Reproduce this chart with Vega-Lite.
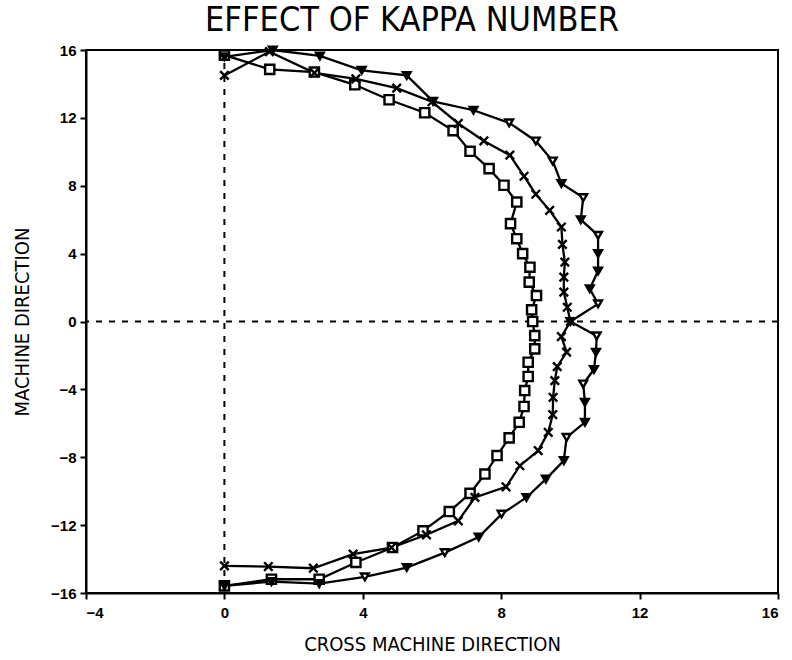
{
  "$schema": "https://vega.github.io/schema/vega-lite/v6.json",
  "width": 692,
  "height": 543,
  "autosize": "none",
  "padding": {"left": 86, "top": 50, "right": 14, "bottom": 67},
  "background": "white",
  "title": {
    "text": "EFFECT OF KAPPA NUMBER",
    "font": "DejaVu Sans Condensed",
    "fontSize": 34,
    "fontWeight": "normal",
    "color": "black",
    "anchor": "middle",
    "offset": 4,
    "dx": -20
  },
  "config": {
    "view": {"stroke": "black", "strokeWidth": 2},
    "axis": {
      "domainColor": "black",
      "domainWidth": 2,
      "tickColor": "black",
      "tickWidth": 2,
      "tickSize": 6,
      "grid": false,
      "labelFont": "Liberation Sans",
      "labelFontWeight": "bold",
      "labelFontSize": 15,
      "labelColor": "black",
      "titleFont": "DejaVu Sans Condensed",
      "titleFontWeight": "normal",
      "titleFontSize": 20,
      "titleColor": "black"
    }
  },
  "datasets": {
    "pts": [
      {"series": "sq", "i": 0, "x": 0, "y": 15.7, "tone": "open"},
      {"series": "sq", "i": 1, "x": 1.31, "y": 14.86, "tone": "open"},
      {"series": "sq", "i": 2, "x": 2.6, "y": 14.7, "tone": "open"},
      {"series": "sq", "i": 3, "x": 3.77, "y": 13.95, "tone": "open"},
      {"series": "sq", "i": 4, "x": 4.76, "y": 13.07, "tone": "open"},
      {"series": "sq", "i": 5, "x": 5.79, "y": 12.3, "tone": "open"},
      {"series": "sq", "i": 6, "x": 6.61, "y": 11.25, "tone": "open"},
      {"series": "sq", "i": 7, "x": 7.1, "y": 10.03, "tone": "open"},
      {"series": "sq", "i": 8, "x": 7.65, "y": 9.01, "tone": "open"},
      {"series": "sq", "i": 9, "x": 8.08, "y": 8.03, "tone": "open"},
      {"series": "sq", "i": 10, "x": 8.45, "y": 7.04, "tone": "open"},
      {"series": "sq", "i": 11, "x": 8.27, "y": 5.77, "tone": "open"},
      {"series": "sq", "i": 12, "x": 8.45, "y": 4.88, "tone": "open"},
      {"series": "sq", "i": 13, "x": 8.62, "y": 4.0, "tone": "open"},
      {"series": "sq", "i": 14, "x": 8.83, "y": 3.2, "tone": "open"},
      {"series": "sq", "i": 15, "x": 8.81, "y": 2.32, "tone": "open"},
      {"series": "sq", "i": 16, "x": 9.02, "y": 1.53, "tone": "open"},
      {"series": "sq", "i": 17, "x": 8.88, "y": 0.69, "tone": "open"},
      {"series": "sq", "i": 18, "x": 8.91, "y": 0.0, "tone": "open"},
      {"series": "sq", "i": 19, "x": 8.97, "y": -0.83, "tone": "open"},
      {"series": "sq", "i": 20, "x": 8.97, "y": -1.61, "tone": "open"},
      {"series": "sq", "i": 21, "x": 8.78, "y": -2.4, "tone": "open"},
      {"series": "sq", "i": 22, "x": 8.78, "y": -3.24, "tone": "open"},
      {"series": "sq", "i": 23, "x": 8.68, "y": -4.07, "tone": "open"},
      {"series": "sq", "i": 24, "x": 8.66, "y": -5.01, "tone": "open"},
      {"series": "sq", "i": 25, "x": 8.52, "y": -5.94, "tone": "open"},
      {"series": "sq", "i": 26, "x": 8.23, "y": -6.86, "tone": "open"},
      {"series": "sq", "i": 27, "x": 7.88, "y": -7.9, "tone": "open"},
      {"series": "sq", "i": 28, "x": 7.53, "y": -8.99, "tone": "open"},
      {"series": "sq", "i": 29, "x": 7.1, "y": -10.13, "tone": "open"},
      {"series": "sq", "i": 30, "x": 6.5, "y": -11.2, "tone": "open"},
      {"series": "sq", "i": 31, "x": 5.74, "y": -12.34, "tone": "open"},
      {"series": "sq", "i": 32, "x": 4.86, "y": -13.32, "tone": "open"},
      {"series": "sq", "i": 33, "x": 3.8, "y": -14.2, "tone": "open"},
      {"series": "sq", "i": 34, "x": 2.74, "y": -15.19, "tone": "open"},
      {"series": "sq", "i": 35, "x": 1.36, "y": -15.19, "tone": "open"},
      {"series": "sq", "i": 36, "x": 0, "y": -15.58, "tone": "open"},

      {"series": "x", "i": 0, "x": 0, "y": 14.5, "tone": "open"},
      {"series": "x", "i": 1, "x": 1.3, "y": 15.9, "tone": "open"},
      {"series": "x", "i": 2, "x": 2.6, "y": 14.65, "tone": "open"},
      {"series": "x", "i": 3, "x": 3.8, "y": 14.3, "tone": "open"},
      {"series": "x", "i": 4, "x": 4.98, "y": 13.75, "tone": "open"},
      {"series": "x", "i": 5, "x": 6.0, "y": 12.95, "tone": "open"},
      {"series": "x", "i": 6, "x": 6.76, "y": 11.67, "tone": "open"},
      {"series": "x", "i": 7, "x": 7.5, "y": 10.64, "tone": "open"},
      {"series": "x", "i": 8, "x": 8.25, "y": 9.8, "tone": "open"},
      {"series": "x", "i": 9, "x": 8.66, "y": 8.56, "tone": "open"},
      {"series": "x", "i": 10, "x": 9.0, "y": 7.5, "tone": "open"},
      {"series": "x", "i": 11, "x": 9.4, "y": 6.55, "tone": "open"},
      {"series": "x", "i": 12, "x": 9.74, "y": 5.57, "tone": "open"},
      {"series": "x", "i": 13, "x": 9.77, "y": 4.55, "tone": "open"},
      {"series": "x", "i": 14, "x": 9.84, "y": 3.5, "tone": "open"},
      {"series": "x", "i": 15, "x": 9.81, "y": 2.62, "tone": "open"},
      {"series": "x", "i": 16, "x": 9.81, "y": 1.73, "tone": "open"},
      {"series": "x", "i": 17, "x": 9.91, "y": 0.84, "tone": "open"},
      {"series": "x", "i": 18, "x": 10.0, "y": 0.0, "tone": "open"},
      {"series": "x", "i": 19, "x": 9.74, "y": -0.89, "tone": "open"},
      {"series": "x", "i": 20, "x": 9.89, "y": -1.81, "tone": "open"},
      {"series": "x", "i": 21, "x": 9.62, "y": -2.66, "tone": "open"},
      {"series": "x", "i": 22, "x": 9.55, "y": -3.48, "tone": "open"},
      {"series": "x", "i": 23, "x": 9.5, "y": -4.47, "tone": "open"},
      {"series": "x", "i": 24, "x": 9.49, "y": -5.49, "tone": "open"},
      {"series": "x", "i": 25, "x": 9.36, "y": -6.53, "tone": "open"},
      {"series": "x", "i": 26, "x": 9.07, "y": -7.61, "tone": "open"},
      {"series": "x", "i": 27, "x": 8.54, "y": -8.5, "tone": "open"},
      {"series": "x", "i": 28, "x": 8.14, "y": -9.74, "tone": "open"},
      {"series": "x", "i": 29, "x": 7.24, "y": -10.37, "tone": "open"},
      {"series": "x", "i": 30, "x": 6.76, "y": -11.75, "tone": "open"},
      {"series": "x", "i": 31, "x": 5.84, "y": -12.57, "tone": "open"},
      {"series": "x", "i": 32, "x": 4.83, "y": -13.32, "tone": "open"},
      {"series": "x", "i": 33, "x": 3.72, "y": -13.71, "tone": "open"},
      {"series": "x", "i": 34, "x": 2.57, "y": -14.54, "tone": "open"},
      {"series": "x", "i": 35, "x": 1.27, "y": -14.44, "tone": "open"},
      {"series": "x", "i": 36, "x": 0, "y": -14.4, "tone": "open"},

      {"series": "tri", "i": 0, "x": 0, "y": 15.6, "tone": "solid"},
      {"series": "tri", "i": 1, "x": 1.4, "y": 16.0, "tone": "solid"},
      {"series": "tri", "i": 2, "x": 2.76, "y": 15.65, "tone": "solid"},
      {"series": "tri", "i": 3, "x": 3.97, "y": 14.8, "tone": "solid"},
      {"series": "tri", "i": 4, "x": 5.27, "y": 14.5, "tone": "solid"},
      {"series": "tri", "i": 5, "x": 6.03, "y": 12.97, "tone": "solid"},
      {"series": "tri", "i": 6, "x": 7.2, "y": 12.45, "tone": "solid"},
      {"series": "tri", "i": 7, "x": 8.23, "y": 11.71, "tone": "open"},
      {"series": "tri", "i": 8, "x": 9.0, "y": 10.64, "tone": "open"},
      {"series": "tri", "i": 9, "x": 9.49, "y": 9.46, "tone": "open"},
      {"series": "tri", "i": 10, "x": 9.74, "y": 8.13, "tone": "solid"},
      {"series": "tri", "i": 11, "x": 10.37, "y": 7.3, "tone": "open"},
      {"series": "tri", "i": 12, "x": 10.3, "y": 6.0, "tone": "solid"},
      {"series": "tri", "i": 13, "x": 10.8, "y": 5.08, "tone": "open"},
      {"series": "tri", "i": 14, "x": 10.8, "y": 4.0, "tone": "solid"},
      {"series": "tri", "i": 15, "x": 10.8, "y": 2.97, "tone": "solid"},
      {"series": "tri", "i": 16, "x": 10.56, "y": 1.93, "tone": "solid"},
      {"series": "tri", "i": 17, "x": 10.8, "y": 1.04, "tone": "open"},
      {"series": "tri", "i": 18, "x": 10.0, "y": 0.0, "tone": "solid"},
      {"series": "tri", "i": 19, "x": 10.76, "y": -0.85, "tone": "open"},
      {"series": "tri", "i": 20, "x": 10.74, "y": -1.81, "tone": "solid"},
      {"series": "tri", "i": 21, "x": 10.68, "y": -2.83, "tone": "solid"},
      {"series": "tri", "i": 22, "x": 10.37, "y": -3.68, "tone": "open"},
      {"series": "tri", "i": 23, "x": 10.42, "y": -4.76, "tone": "solid"},
      {"series": "tri", "i": 24, "x": 10.42, "y": -5.94, "tone": "solid"},
      {"series": "tri", "i": 25, "x": 9.89, "y": -6.83, "tone": "open"},
      {"series": "tri", "i": 26, "x": 9.81, "y": -8.2, "tone": "solid"},
      {"series": "tri", "i": 27, "x": 9.29, "y": -9.29, "tone": "solid"},
      {"series": "tri", "i": 28, "x": 8.73, "y": -10.37, "tone": "solid"},
      {"series": "tri", "i": 29, "x": 8.01, "y": -11.35, "tone": "open"},
      {"series": "tri", "i": 30, "x": 7.35, "y": -12.7, "tone": "solid"},
      {"series": "tri", "i": 31, "x": 6.37, "y": -13.62, "tone": "open"},
      {"series": "tri", "i": 32, "x": 5.27, "y": -14.5, "tone": "solid"},
      {"series": "tri", "i": 33, "x": 4.06, "y": -15.05, "tone": "open"},
      {"series": "tri", "i": 34, "x": 2.74, "y": -15.45, "tone": "solid"},
      {"series": "tri", "i": 35, "x": 1.36, "y": -15.33, "tone": "solid"},
      {"series": "tri", "i": 36, "x": 0, "y": -15.58, "tone": "solid"}
    ],
    "refs": [
      {"axis": "v", "v": 0},
      {"axis": "h", "v": 0}
    ]
  },
  "layer": [
    {
      "data": {"name": "refs"},
      "transform": [{"filter": "datum.axis === 'v'"}],
      "mark": {"type": "rule", "color": "black", "strokeWidth": 2, "strokeDash": [6, 7]},
      "encoding": {
        "x": {"field": "v", "type": "quantitative", "scale": {"domain": [-4, 16]}}
      }
    },
    {
      "data": {"name": "refs"},
      "transform": [{"filter": "datum.axis === 'h'"}],
      "mark": {"type": "rule", "color": "black", "strokeWidth": 2, "strokeDash": [6, 7]},
      "encoding": {
        "y": {"field": "v", "type": "quantitative", "scale": {"domain": [-16, 16]}}
      }
    },
    {
      "data": {"name": "pts"},
      "mark": {"type": "line", "color": "black", "strokeWidth": 2.3},
      "encoding": {
        "x": {"field": "x", "type": "quantitative"},
        "y": {"field": "y", "type": "quantitative"},
        "detail": {"field": "series"},
        "order": {"field": "i", "type": "quantitative"}
      }
    },
    {
      "data": {"name": "pts"},
      "mark": {"type": "point", "filled": true, "stroke": "black", "strokeWidth": 2.4, "opacity": 1},
      "encoding": {
        "x": {
          "field": "x", "type": "quantitative",
          "scale": {"domain": [-4, 16], "nice": false, "zero": false},
          "axis": {"values": [-4, 0, 4, 8, 12, 16], "title": "CROSS MACHINE DIRECTION", "labelPadding": 6, "titlePadding": 14}
        },
        "y": {
          "field": "y", "type": "quantitative",
          "scale": {"domain": [-16, 16], "nice": false, "zero": false},
          "axis": {"values": [-16, -12, -8, -4, 0, 4, 8, 12, 16], "title": "MACHINE DIRECTION", "labelPadding": 4, "titlePadding": 18}
        },
        "shape": {
          "field": "series", "type": "nominal",
          "scale": {"domain": ["sq", "x", "tri"], "range": ["square", "M-1,-1L1,1M1,-1L-1,1", "triangle-down"]},
          "legend": null
        },
        "fill": {
          "field": "tone", "type": "nominal",
          "scale": {"domain": ["open", "solid"], "range": ["white", "black"]},
          "legend": null
        },
        "size": {
          "field": "series", "type": "nominal",
          "scale": {"domain": ["sq", "x", "tri"], "range": [85, 60, 95]},
          "legend": null
        }
      }
    }
  ]
}
